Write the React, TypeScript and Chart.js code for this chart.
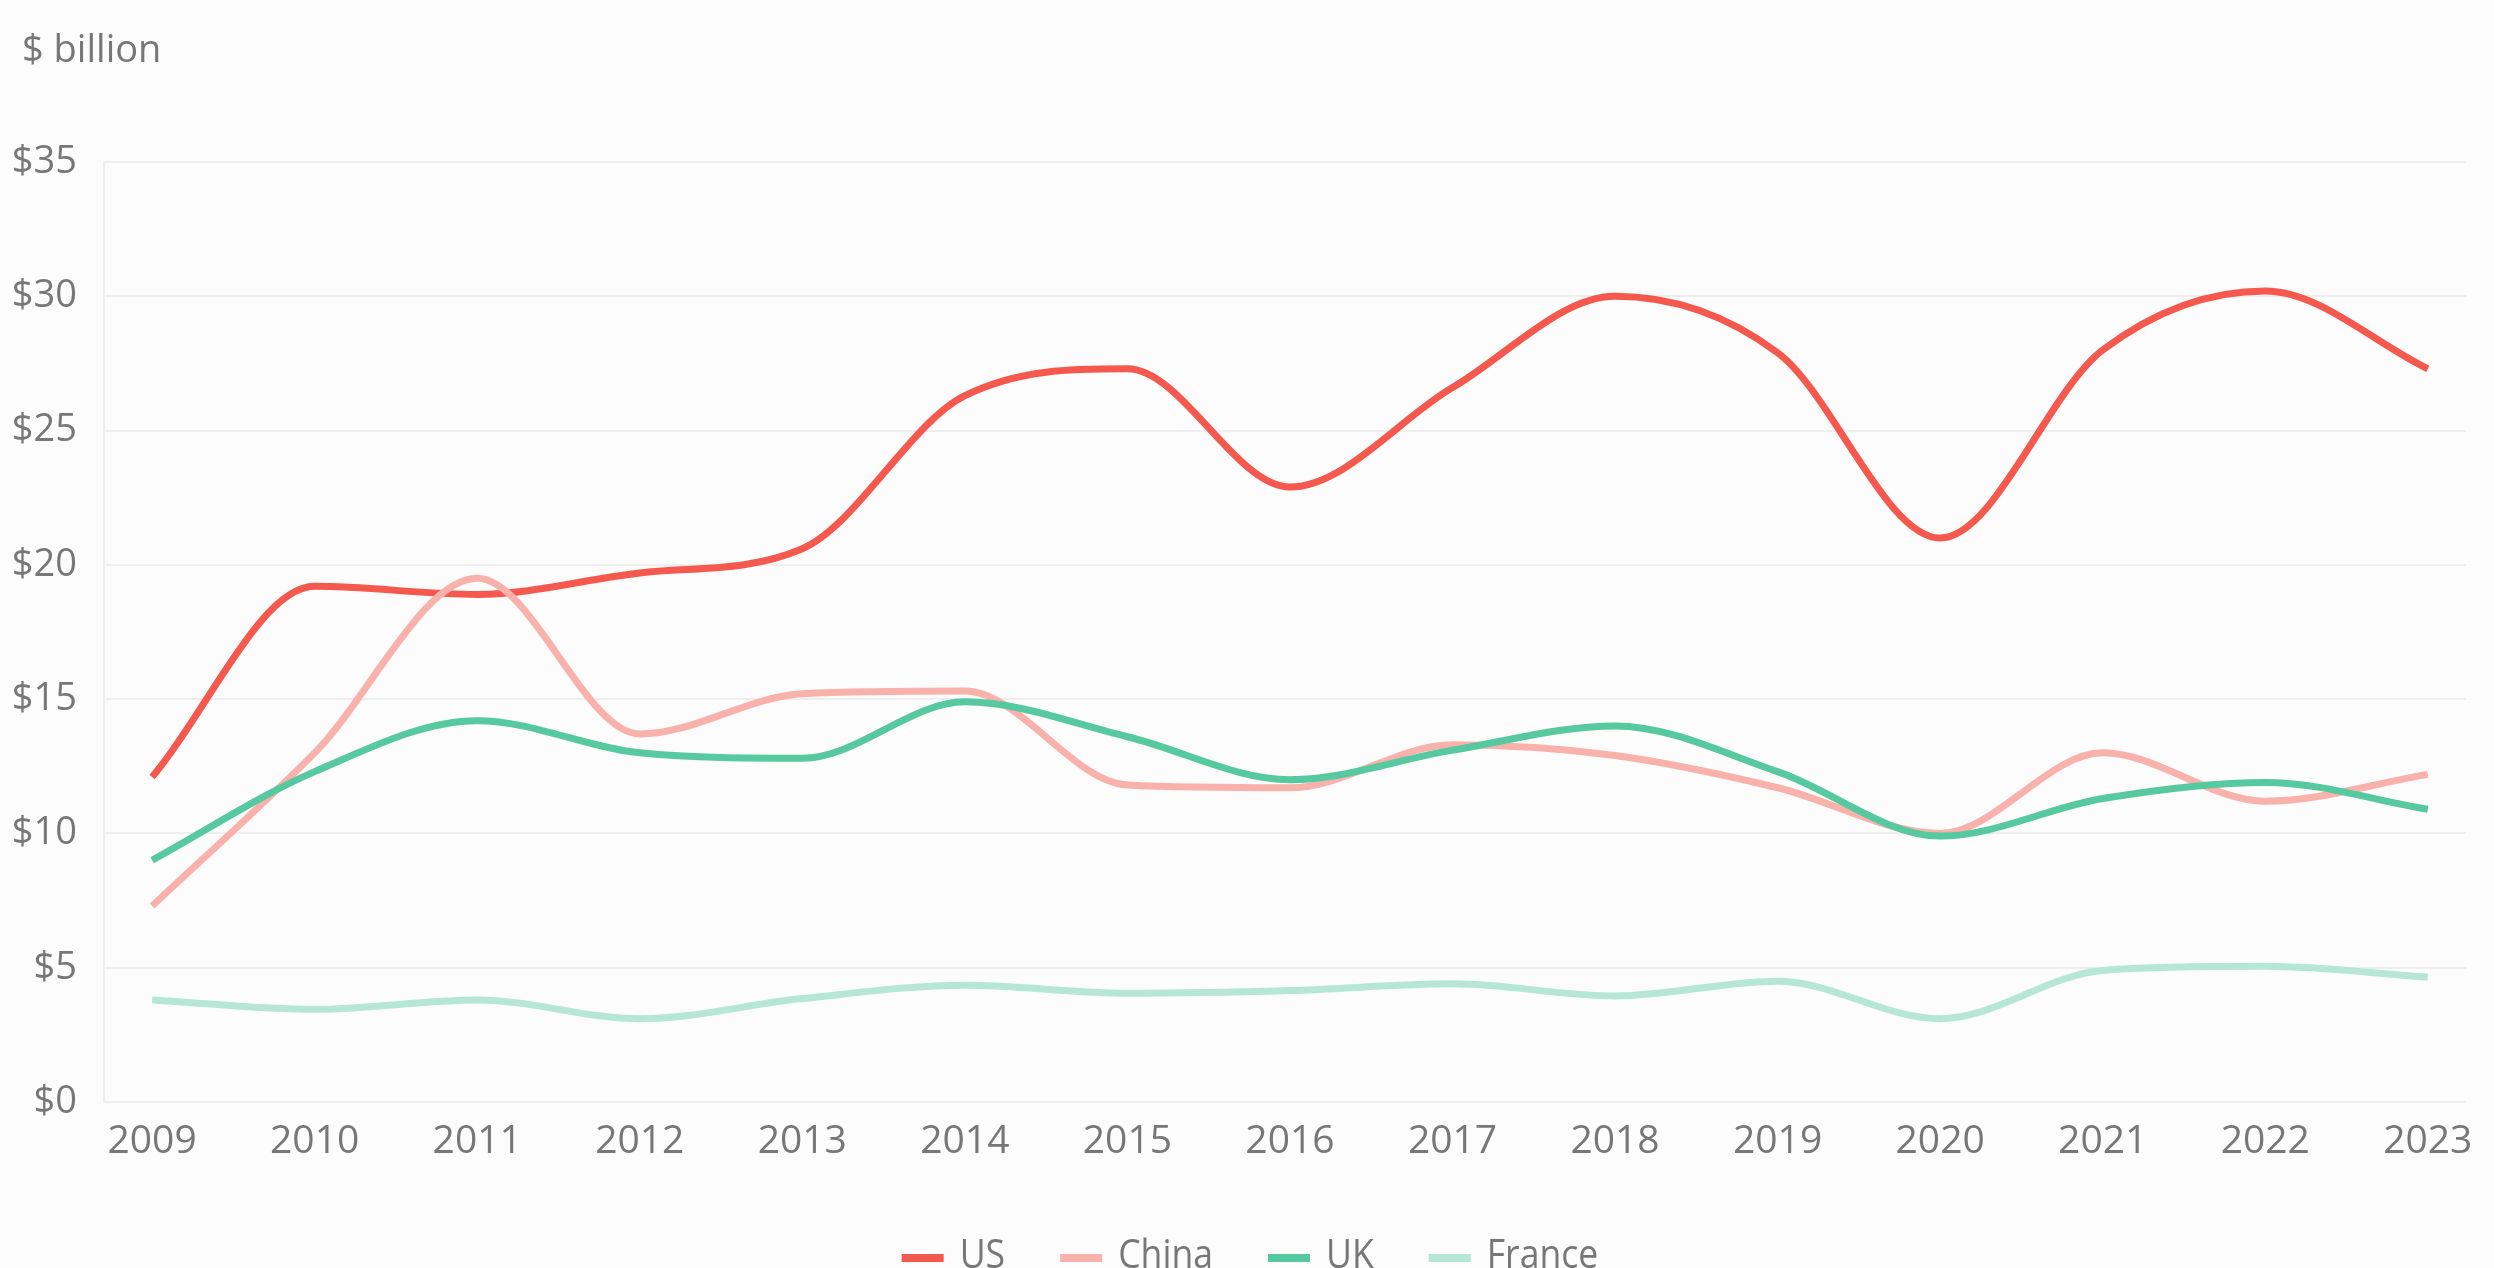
import React, { useEffect, useRef } from 'react';
import { Chart, registerables } from 'chart.js';

Chart.register(...registerables);

const years = [2009, 2010, 2011, 2012, 2013, 2014, 2015, 2016, 2017, 2018, 2019, 2020, 2021, 2022, 2023];
const seriesNames = ['US', 'China', 'UK', 'France'];
const usValues = [12.1, 19.2, 18.9, 19.7, 20.6, 26.3, 27.3, 22.9, 26.6, 30.0, 27.9, 21.0, 28.0, 30.2, 27.3];
const chinaValues = [7.3, 13.0, 19.5, 13.7, 15.2, 15.3, 11.8, 11.7, 13.3, 12.9, 11.7, 10.0, 13.0, 11.2, 12.2];
const ukValues = [9.0, 12.3, 14.2, 13.0, 12.8, 14.9, 13.6, 12.0, 13.1, 14.0, 12.3, 9.9, 11.3, 11.9, 10.9];
const franceValues = [3.8, 3.45, 3.8, 3.1, 3.85, 4.35, 4.05, 4.15, 4.4, 3.95, 4.5, 3.1, 4.9, 5.05, 4.65];
const yTickValues = [0, 5, 10, 15, 20, 25, 30, 35];
const unitLabel = '$ billion';

const FONT = '"Open Sans", sans-serif';
const TEXT = '#777777';
const GRID = '#eeeeee';
const colors = ['#F5594D', '#F9B1AC', '#57C9A1', '#B6E7D6'];

export default function App() {
  const ref = useRef<HTMLCanvasElement | null>(null);

  useEffect(() => {
    const canvas = ref.current;
    if (!canvas) return;
    const all = [usValues, chinaValues, ukValues, franceValues];

    const overlay = {
      id: 'overlay',
      afterDraw(chart: any) {
        const ctx = chart.ctx as CanvasRenderingContext2D;
        ctx.save();
        ctx.fillStyle = TEXT;
        ctx.textAlign = 'left';
        ctx.textBaseline = 'alphabetic';
        ctx.font = `38px ${FONT}`;
        ctx.fillText(unitLabel, 22, 62);

        // legend (centred under the canvas, clipped by the bottom edge)
        const sx = 0.89;
        const boxW = 42;
        const boxH = 8;
        const gapText = 16;
        const gapItem = 55;
        ctx.font = `40px ${FONT}`;
        const items = chart.data.datasets.map((ds: any) => ({
          label: ds.label,
          color: ds.borderColor,
          w: ctx.measureText(ds.label).width * sx,
        }));
        const total =
          items.reduce((s: number, it: any) => s + boxW + gapText + it.w, 0) + gapItem * (items.length - 1);
        let x = 1250 - total / 2;
        items.forEach((it: any) => {
          ctx.fillStyle = it.color;
          ctx.fillRect(x, 1254, boxW, boxH);
          x += boxW + gapText;
          ctx.save();
          ctx.translate(x, 1268);
          ctx.scale(sx, 1);
          ctx.fillStyle = TEXT;
          ctx.fillText(it.label, 0, 0);
          ctx.restore();
          x += it.w + gapItem;
        });
        ctx.restore();
      },
    };

    const chart = new Chart(canvas, {
      type: 'line',
      data: {
        datasets: seriesNames.map((name, i) => ({
          label: name,
          data: years.map((yr, j) => ({ x: yr, y: all[i][j] })),
          borderColor: colors[i],
          backgroundColor: colors[i],
          borderWidth: 7,
          pointRadius: 0,
          pointHoverRadius: 0,
          cubicInterpolationMode: 'monotone' as const,
          fill: false,
          order: seriesNames.length - i,
        })),
      },
      options: {
        responsive: false,
        animation: false,
        devicePixelRatio: 1,
        layout: { padding: { top: 162, right: 28, left: 0, bottom: 86 } },
        plugins: {
          legend: { display: false },
          tooltip: { enabled: false },
          title: { display: false },
        },
        scales: {
          x: {
            type: 'linear',
            min: 2008.704,
            max: 2023.235,
            afterBuildTicks: (scale: any) => {
              scale.ticks = years.map((v) => ({ value: v }));
            },
            afterFit: (scale: any) => {
              scale.height = 80;
            },
            grid: { display: false, drawTicks: false },
            border: { display: false },
            ticks: {
              color: TEXT,
              font: { family: FONT, size: 39 },
              padding: 16,
              maxRotation: 0,
              autoSkip: false,
              callback: (v: any) => String(v),
            },
          },
          y: {
            min: 0,
            max: 35,
            afterBuildTicks: (scale: any) => {
              scale.ticks = yTickValues.map((v) => ({ value: v }));
            },
            afterFit: (scale: any) => {
              scale.width = 104;
            },
            grid: { color: GRID, lineWidth: 2, drawTicks: false },
            border: { display: true, color: GRID, width: 2 },
            ticks: {
              color: TEXT,
              font: { family: FONT, size: 38 },
              padding: 27,
              callback: (v: any) => '$' + v,
            },
          },
        },
      },
      plugins: [overlay],
    });

    return () => chart.destroy();
  }, []);

  return (
    <div
      style={{
        position: 'fixed',
        left: 0,
        top: 0,
        width: 2494,
        height: 1268,
        background: '#fcfcfc',
        overflow: 'hidden',
      }}
    >
      <canvas ref={ref} width={2494} height={1268} style={{ display: 'block', width: 2494, height: 1268 }} />
    </div>
  );
}
